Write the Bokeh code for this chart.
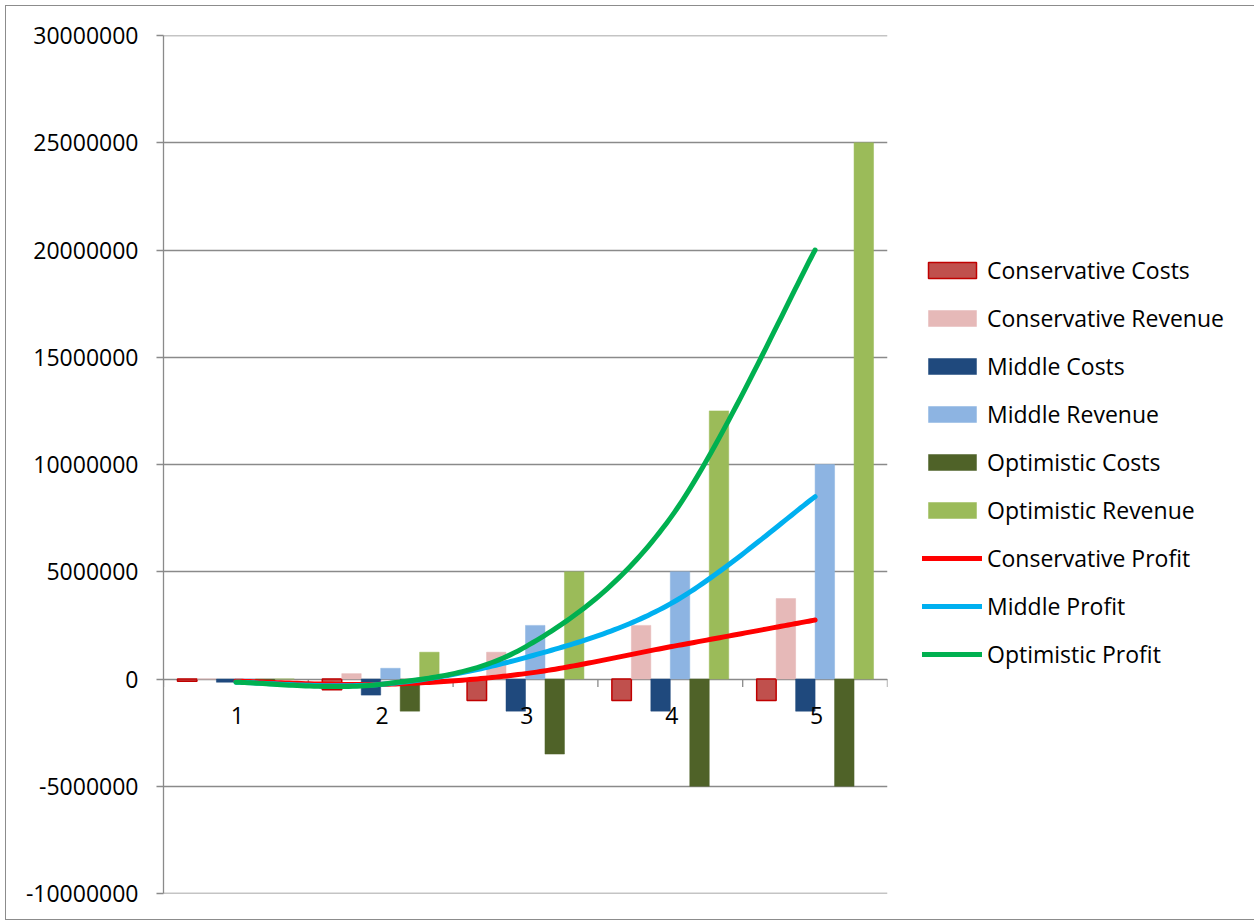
import numpy as np
from bokeh.plotting import figure
from bokeh.models import Range1d, FixedTicker, NumeralTickFormatter, Legend, LegendItem
from bokeh.core.properties import value
from bokeh.embed import file_html
from bokeh.resources import INLINE

# ---------------- data ----------------
years = ["1", "2", "3", "4", "5"]
year_pos = [1, 2, 3, 4, 5]
cons_costs = [-100000, -500000, -1000000, -1000000, -1000000]
cons_rev = [0, 250000, 1250000, 2500000, 3750000]
mid_costs = [-150000, -750000, -1500000, -1500000, -1500000]
mid_rev = [0, 500000, 2500000, 5000000, 10000000]
opt_costs = [-150000, -1500000, -3500000, -5000000, -5000000]
opt_rev = [0, 1250000, 5000000, 12500000, 25000000]
cons_profit = [-100000, -250000, 250000, 1500000, 2750000]
mid_profit = [-150000, -250000, 1000000, 3500000, 8500000]
opt_profit = [-150000, -250000, 1500000, 7500000, 20000000]
y_ticks = [-10000000, -5000000, 0, 5000000, 10000000, 15000000, 20000000, 25000000, 30000000]

bar_series = [
    ("Conservative Costs", cons_costs, "#C0504D", "#C00000"),
    ("Conservative Revenue", cons_rev, "#E6B9B8", None),
    ("Middle Costs", mid_costs, "#1F497D", None),
    ("Middle Revenue", mid_rev, "#8DB4E2", None),
    ("Optimistic Costs", opt_costs, "#4F6228", None),
    ("Optimistic Revenue", opt_rev, "#9BBB59", None),
]
line_series = [
    ("Conservative Profit", cons_profit, "#FF0000"),
    ("Middle Profit", mid_profit, "#00B0F0"),
    ("Optimistic Profit", opt_profit, "#00B050"),
]

FONT = "Open Sans"
GRID = "#8a8a8a"
YMIN, YMAX = -10000000, 30000000
FRAME_W, FRAME_H = 724, 858

p = figure(frame_width=FRAME_W, frame_height=FRAME_H,
           x_range=Range1d(0.5, 5.5), y_range=Range1d(YMIN, YMAX),
           output_backend="svg", toolbar_location=None,
           x_axis_location=None,
           min_border_left=157, min_border_right=0,
           min_border_top=29, min_border_bottom=26,
           outline_line_color=None,
           background_fill_color="white", border_fill_color="white")
p.margin = (6, 0, 0, 6)
p.styles = {"outline": "1px solid #8c8c8c"}

# y axis
yax = p.yaxis[0]
yax.ticker = FixedTicker(ticks=y_ticks, minor_ticks=[])
yax.formatter = NumeralTickFormatter(format="0")
yax.axis_line_color = GRID
yax.axis_line_width = 1.3
yax.major_tick_line_color = GRID
yax.major_tick_line_width = 1.3
yax.major_tick_out = 7
yax.major_tick_in = 0
yax.minor_tick_line_color = None
yax.major_label_standoff = 18
yax.major_label_text_font = FONT
yax.major_label_text_font_size = "23px"
yax.major_label_text_color = "black"

p.grid.visible = False
# horizontal gridlines at every y tick (including range ends)
p.hspan(y=y_ticks, line_color=GRID, line_width=1.3)

# bars
n = len(bar_series)
bw = 0.1345
renderers = {}
for i, (name, vals, fill, line) in enumerate(bar_series):
    xs = [c + (i - (n - 1) / 2) * bw for c in year_pos]
    r = p.vbar(x=xs, top=vals, bottom=0, width=bw, fill_color=fill,
               line_color=line if line else fill,
               line_width=1.5 if line else 0.5)
    renderers[name] = r

# category axis ticks at boundaries (crossing at zero)
units_per_px = (YMAX - YMIN) / FRAME_H
bounds = [year_pos[0] - 0.5] + [c + 0.5 for c in year_pos]
p.segment(x0=bounds, x1=bounds, y0=[0] * len(bounds), y1=[-8 * units_per_px] * len(bounds),
          line_color=GRID, line_width=1.3)

# smooth lines (Excel-style bezier smoothing of the data points)
def smooth(xs, ys, steps=40):
    pts = np.column_stack([xs, ys]).astype(float)
    ox, oy = [], []
    m = len(pts)
    for i in range(m - 1):
        p0 = pts[i - 1] if i > 0 else pts[i]
        p1 = pts[i]
        p2 = pts[i + 1]
        p3 = pts[i + 2] if i + 2 < m else pts[i + 1]
        c1 = p1 + (p2 - p0) / 6.0
        c2 = p2 - (p3 - p1) / 6.0
        ts = np.linspace(0, 1, steps)
        if i > 0:
            ts = ts[1:]
        for t in ts:
            b = ((1 - t) ** 3) * p1 + 3 * ((1 - t) ** 2) * t * c1 + 3 * (1 - t) * t * t * c2 + t ** 3 * p2
            ox.append(b[0]); oy.append(b[1])
    return ox, oy

for name, vals, col in line_series:
    sx, sy = smooth(year_pos, vals)
    r = p.line(sx, sy, line_color=col, line_width=5, line_cap="round", line_join="round")
    renderers[name] = r

# category labels
p.text(x=[c + 0.01 for c in year_pos], y=[0] * len(year_pos), text=years,
       text_font=value(FONT), text_font_size="23px", text_color="black",
       text_align="center", text_baseline="middle", y_offset=36)

order = [s[0] for s in bar_series] + [s[0] for s in line_series]
legend = Legend(items=[LegendItem(label=nm, renderers=[renderers[nm]]) for nm in order],
                location=(35, 219), orientation="vertical",
                glyph_width=60, glyph_height=20, label_standoff=5,
                label_height=40, spacing=8, padding=0, margin=0,
                border_line_color=None, background_fill_alpha=0,
                label_text_font=FONT, label_text_font_size="23px",
                label_text_color="black", label_text_baseline="middle")
p.add_layout(legend, "right")

open("out.html", "w").write(file_html(p, INLINE))
